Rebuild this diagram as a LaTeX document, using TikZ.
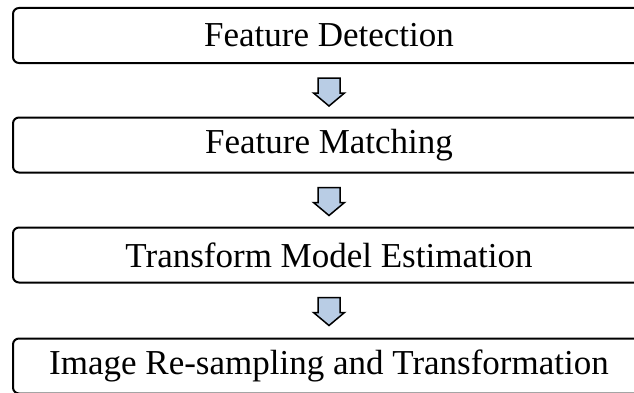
\documentclass[tikz,border=0pt]{standalone}
\usepackage{fontspec}
\setmainfont{Liberation Serif}
\usetikzlibrary{calc}
\definecolor{arrowblue}{RGB}{185,205,229}
\tikzset{
  stage/.style={draw=black, line width=2pt, rounded corners=6pt,
    minimum width=632pt, minimum height=55pt, inner sep=0pt,
    font=\fontsize{35}{42}\selectfont},
  downarrow/.pic={
    \filldraw[fill=arrowblue, draw=black, line width=1.5pt, line join=miter]
      (-11,0) -- (11,0) -- (11,-15) -- (15.5,-15) -- (0,-28)
      -- (-15.5,-15) -- (-11,-15) -- cycle;
  }
}
\begin{document}
\begin{tikzpicture}[x=1pt, y=1pt]
  \useasboundingbox (0,0) rectangle (634,392);
  \clip (0,0) rectangle (634,392);
  \node[stage] (detect)    at (329,356.5) {Feature Detection};
  \node[stage] (match)     at (329,247)   {Feature Matching};
  \node[stage] (model)     at (329,137)   {Transform Model Estimation};
  \node[stage] (resample)  at (329,26)    {Image Re-sampling and Transformation};
  \pic at ($(detect.south)+(0,-14)$) {downarrow};
  \pic at ($(match.south)+(0,-14)$)  {downarrow};
  \pic at ($(model.south)+(0,-14)$)  {downarrow};
\end{tikzpicture}
\end{document}
